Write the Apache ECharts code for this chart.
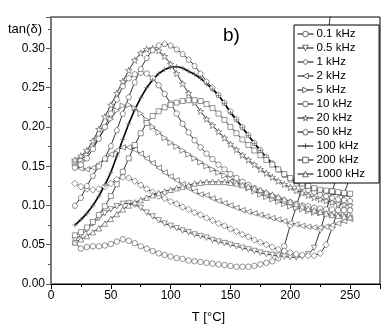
<!DOCTYPE html>
<html>
<head>
<meta charset="utf-8">
<script src="https://cdn.jsdelivr.net/npm/echarts@6.0.0/dist/echarts.min.js"></script>
<style>
  html, body { margin: 0; padding: 0; background: #fff; }
  #chart { width: 392px; height: 332px; }
</style>
</head>
<body>
<div id="chart"></div>
<script>
// temperatures (deg C) shared by every frequency curve
var temps = [20, 25, 30, 35, 40, 45, 50, 55, 60, 65, 70, 75, 80, 85, 90, 95, 100, 105, 110, 115,
             120, 125, 130, 135, 140, 145, 150, 155, 160, 165, 170, 175, 180, 185, 190, 195, 200,
             205, 210, 215, 220, 225, 230, 235, 240, 245, 250];

var labels = ['0.1 kHz', '0.5 kHz', '1 kHz', '2 kHz', '5 kHz', '10 kHz', '20 kHz', '50 kHz',
              '100 kHz', '200 kHz', '1000 kHz'];

// tan(delta), one value per temperature
var f01 = [0.053, 0.045, 0.047, 0.048, 0.048, 0.049, 0.051, 0.054, 0.057, 0.055, 0.052, 0.048, 0.045,
           0.042, 0.039, 0.037, 0.035, 0.033, 0.032, 0.030, 0.029, 0.028, 0.027, 0.026, 0.025, 0.024,
           0.023, 0.022, 0.022, 0.022, 0.023, 0.025, 0.027, 0.029, 0.033, 0.048, 0.075, 0.098, 0.125,
           0.158, 0.200, 0.245, 0.300, 0.360, null, null, null];
var f05 = [0.056, 0.062, 0.069, 0.077, 0.084, 0.090, 0.095, 0.099, 0.102, 0.103, 0.101, 0.097, 0.091,
           0.086, 0.081, 0.077, 0.074, 0.071, 0.068, 0.066, 0.063, 0.061, 0.059, 0.056, 0.054, 0.052,
           0.050, 0.048, 0.046, 0.044, 0.042, 0.040, 0.038, 0.037, 0.036, 0.035, 0.034, 0.034, 0.035,
           0.038, 0.046, 0.068, 0.093, 0.118, 0.142, 0.175, null];
var f1 = [0.128, 0.124, 0.121, 0.120, 0.121, 0.124, 0.128, 0.133, 0.136, 0.135, 0.131, 0.126, 0.121,
          0.117, 0.112, 0.109, 0.105, 0.102, 0.098, 0.095, 0.091, 0.088, 0.084, 0.081, 0.077, 0.074,
          0.070, 0.067, 0.063, 0.060, 0.056, 0.053, 0.050, 0.047, 0.044, 0.042, 0.040, 0.038, 0.037,
          0.036, 0.036, 0.039, 0.050, 0.072, 0.094, 0.115, 0.136];
var f2 = [0.150, 0.147, 0.146, 0.148, 0.153, 0.159, 0.165, 0.170, 0.174, 0.174, 0.171, 0.166, 0.160,
          0.154, 0.148, 0.142, 0.137, 0.132, 0.127, 0.122, 0.118, 0.114, 0.113, 0.109, 0.106, 0.103,
          0.100, 0.097, 0.094, 0.092, 0.090, 0.088, 0.086, 0.084, 0.082, 0.080, 0.078, 0.076, 0.074,
          0.073, 0.072, 0.072, 0.073, 0.075, 0.077, 0.080, 0.083];
var f5 = [0.155, 0.158, 0.165, 0.175, 0.186, 0.198, 0.210, 0.221, 0.227, 0.228, 0.224, 0.217, 0.209,
          0.200, 0.193, 0.186, 0.180, 0.175, 0.170, 0.165, 0.160, 0.155, 0.150, 0.146, 0.142, 0.138,
          0.134, 0.130, 0.126, 0.122, 0.118, 0.114, 0.111, 0.108, 0.105, 0.102, 0.099, 0.097, 0.095,
          0.093, 0.091, 0.090, 0.089, 0.088, 0.088, 0.088, 0.088];
var f10 = [0.148, 0.152, 0.160, 0.172, 0.185, 0.200, 0.217, 0.235, 0.252, 0.262, 0.267, 0.269, 0.268,
           0.262, 0.253, 0.242, 0.230, 0.217, 0.204, 0.193, 0.183, 0.174, 0.166, 0.159, 0.152, 0.146,
           0.140, 0.135, 0.130, 0.126, 0.122, 0.118, 0.115, 0.112, 0.109, 0.106, 0.104, 0.102, 0.100,
           0.099, 0.097, 0.096, 0.095, 0.095, 0.094, 0.094, 0.094];
var f20 = [0.158, 0.163, 0.170, 0.182, 0.197, 0.213, 0.228, 0.243, 0.258, 0.272, 0.285, 0.294, 0.299,
           0.300, 0.297, 0.290, 0.280, 0.268, 0.255, 0.243, 0.231, 0.220, 0.210, 0.202, 0.194, 0.186,
           0.178, 0.171, 0.164, 0.158, 0.152, 0.146, 0.141, 0.136, 0.131, 0.127, 0.123, 0.119, 0.116,
           0.113, 0.110, 0.108, 0.106, 0.104, 0.102, 0.101, 0.100];
var f50 = [0.100, 0.110, 0.125, 0.138, 0.150, 0.160, 0.176, 0.196, 0.217, 0.238, 0.257, 0.274, 0.288,
           0.298, 0.304, 0.306, 0.304, 0.299, 0.293, 0.286, 0.278, 0.268, 0.258, 0.250, 0.241, 0.231,
           0.220, 0.210, 0.200, 0.190, 0.180, 0.171, 0.162, 0.154, 0.146, 0.139, 0.133, 0.128, 0.124,
           0.120, 0.117, 0.114, 0.112, 0.110, 0.108, 0.107, 0.106];
var f100 = [0.075, 0.082, 0.090, 0.100, 0.112, 0.126, 0.142, 0.163, 0.184, 0.204, 0.222, 0.237, 0.250,
            0.260, 0.268, 0.273, 0.276, 0.277, 0.275, 0.271, 0.267, 0.262, 0.255, 0.248, 0.240, 0.230,
            0.218, 0.209, 0.199, 0.189, 0.179, 0.170, 0.161, 0.153, 0.146, 0.140, 0.135, 0.131, 0.127,
            0.124, 0.121, 0.119, 0.117, 0.115, 0.114, 0.113, 0.112];
var f200 = [0.062, 0.066, 0.072, 0.079, 0.088, 0.099, 0.112, 0.127, 0.143, 0.160, 0.177, 0.192, 0.205,
            0.214, 0.220, 0.225, 0.228, 0.231, 0.233, 0.234, 0.234, 0.233, 0.229, 0.224, 0.217, 0.209,
            0.200, 0.192, 0.184, 0.177, 0.170, 0.164, 0.158, 0.152, 0.146, 0.140, 0.135, 0.131, 0.128,
            0.125, 0.122, 0.120, 0.119, 0.118, 0.117, 0.116, 0.115];
var f1000 = [0.053, 0.057, 0.061, 0.066, 0.071, 0.077, 0.083, 0.089, 0.095, 0.100, 0.104, 0.107, 0.110,
             0.113, 0.116, 0.118, 0.120, 0.122, 0.124, 0.126, 0.128, 0.129, 0.130, 0.130, 0.130, 0.130,
             0.129, 0.128, 0.126, 0.124, 0.122, 0.120, 0.117, 0.114, 0.111, 0.108, 0.105, 0.102, 0.099,
             0.096, 0.094, 0.092, 0.090, 0.088, 0.087, 0.086, 0.085];

var xTicks = [0, 50, 100, 150, 200, 250];
var yTicks = [0.00, 0.05, 0.10, 0.15, 0.20, 0.25, 0.30];

(function () {
    var STAR = 'path://M5,0L6.2,3.8L10,3.8L7,6.2L8.1,10L5,7.6L1.9,10L3,6.2L0,3.8L3.8,3.8Z';
    var PENTA = 'path://M5,0L10,3.8L8.1,10L1.9,10L0,3.8Z';
    var CROSS = 'path://M0,5L10,5M5,0L5,10';

    function pairs(vals) {
        var out = [];
        for (var i = 0; i < temps.length; i++) {
            if (vals[i] !== null) out.push([temps[i], vals[i]]);
        }
        return out;
    }

    function curve(name, vals, symbol, rotate, size, width) {
        return {
            name: name,
            type: 'line',
            data: pairs(vals),
            symbol: symbol,
            symbolRotate: rotate || 0,
            symbolSize: size || 5.5,
            showAllSymbol: true,
            lineStyle: { color: '#000', width: width || 0.8 },
            itemStyle: { color: '#fff', borderColor: '#666', borderWidth: 0.7 },
            emphasis: { disabled: true },
            z: 2
        };
    }

    var chart = echarts.init(document.getElementById('chart'), null, { renderer: 'canvas' });
    var font = 'Liberation Sans, Arial, sans-serif';

    chart.setOption({
        animation: false,
        backgroundColor: '#fff',
        textStyle: { fontFamily: font },
        grid: { left: 51, right: 12, top: 17, bottom: 48, show: true, borderColor: '#000', borderWidth: 1 },
        legend: {
            orient: 'vertical',
            left: 294,
            top: 25,
            data: labels,
            itemWidth: 16,
            itemHeight: 7,
            itemGap: 2,
            padding: [3, 14, 3, 3],
            borderColor: '#000',
            borderWidth: 1,
            backgroundColor: '#fff',
            itemStyle: { color: '#fff', borderColor: '#444', borderWidth: 0.8 },
            lineStyle: { color: '#000', width: 1 },
            textStyle: { fontSize: 11.5, color: '#000', fontFamily: font, padding: [0, 0, 0, -2] },
            z: 6
        },
        graphic: [{
            type: 'text',
            left: 223,
            top: 26,
            style: { text: 'b)', font: '19px Liberation Sans, Arial, sans-serif', fill: '#000' },
            z: 7
        }, {
            type: 'text',
            left: 8,
            top: 23,
            style: { text: 'tan(\u03b4)', font: '13px Liberation Sans, Arial, sans-serif', fill: '#000' },
            z: 7
        }],
        xAxis: {
            type: 'value',
            min: 0,
            max: 275,
            interval: 50,
            name: 'T [\u00b0C]',
            nameLocation: 'middle',
            nameGap: 27,
            nameTextStyle: { fontSize: 13, color: '#000', padding: [0, 14, 0, 0] },
            axisLine: { onZero: false, lineStyle: { color: '#000', width: 1 } },
            axisTick: { inside: false, length: 5, lineStyle: { color: '#000' } },
            minorTick: { show: true, splitNumber: 2, length: 3, lineStyle: { color: '#000' } },
            splitLine: { show: false },
            axisLabel: {
                fontSize: 12, color: '#000', margin: 6, showMaxLabel: false,
                formatter: function (v) { return xTicks.indexOf(v) >= 0 ? String(v) : ''; }
            }
        },
        yAxis: {
            type: 'value',
            min: 0,
            max: 0.34,
            interval: 0.05,
            axisLine: { onZero: false, lineStyle: { color: '#777', width: 2 } },
            axisTick: { inside: false, length: 5, lineStyle: { color: '#555' } },
            minorTick: { show: true, splitNumber: 2, length: 3, lineStyle: { color: '#555' } },
            splitLine: { show: false },
            axisLabel: {
                fontSize: 12, color: '#000', margin: 6, showMaxLabel: false,
                formatter: function (v) {
                    for (var i = 0; i < yTicks.length; i++) {
                        if (Math.abs(yTicks[i] - v) < 1e-6) return yTicks[i].toFixed(2);
                    }
                    return '';
                }
            }
        },
        series: [
            curve(labels[0], f01, 'circle'),
            curve(labels[1], f05, 'triangle', 180),
            curve(labels[2], f1, 'diamond', 0, 6.5),
            curve(labels[3], f2, 'triangle', 90),
            curve(labels[4], f5, 'triangle', -90),
            curve(labels[5], f10, 'circle'),
            curve(labels[6], f20, STAR, 0, 6.5),
            curve(labels[7], f50, PENTA),
            curve(labels[8], f100, CROSS, 0, 5, 1.6),
            curve(labels[9], f200, 'rect', 0, 5),
            curve(labels[10], f1000, 'triangle')
        ]
    });
})();
</script>
</body>
</html>
